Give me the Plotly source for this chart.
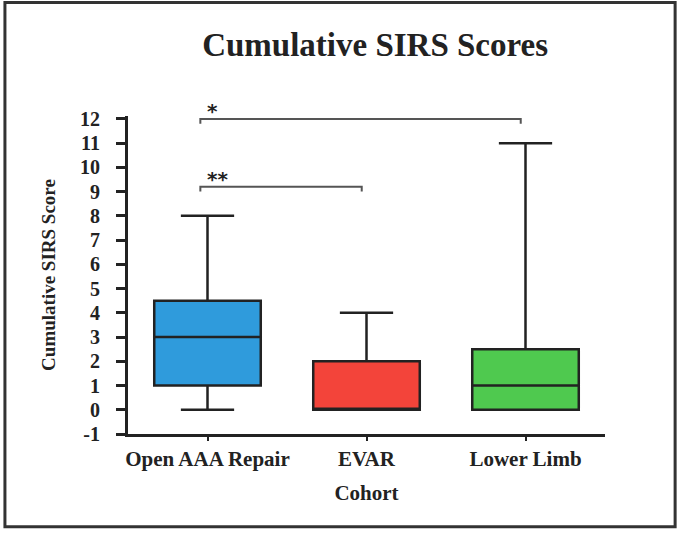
import plotly.graph_objects as go

# Data
cohorts = ["Open AAA Repair", "EVAR", "Lower Limb"]
lower_fence = [0, 0, 0]
q1 = [1, 0, 0]
median = [3, 0, 1]
q3 = [4.5, 2, 2.5]
upper_fence = [8, 4, 11]
colors = ["#2F9BDC", "#F3443A", "#4FC94F"]

# significance brackets: (from index, to index, y level, label)
brackets = [
    (0, 2, 12.0, "*"),
    (0, 1, 9.2, "**"),
]
y_ticks = list(range(-1, 13))
y_ticktext = [str(v) for v in y_ticks]

FONT = "Liberation Serif"
fig = go.Figure()
for i, c in enumerate(cohorts):
    fig.add_trace(go.Box(
        x=[c], q1=[q1[i]], median=[median[i]], q3=[q3[i]],
        lowerfence=[lower_fence[i]], upperfence=[upper_fence[i]],
        fillcolor=colors[i], line=dict(color="#222222", width=2.5),
        width=0.67, whiskerwidth=0.5, boxpoints=False, showlegend=False,
        hoverinfo="skip",
    ))

shapes = []
annotations = []
for a, b, y, lab in brackets:
    x0 = a - 0.045
    x1 = b - 0.03
    shapes.append(dict(type="path", xref="x", yref="y",
                       path=f"M {x0},{y-0.2} L {x0},{y} L {x1},{y} L {x1},{y-0.2}",
                       line=dict(color="#555555", width=2)))
    annotations.append(dict(x=x0 + 0.045 + 0.032 * len(lab), y=y, xref="x", yref="y",
                            text=lab, showarrow=False, yanchor="bottom", xanchor="center",
                            yshift=-6,
                            font=dict(family="DejaVu Sans", size=20, color="#222222",
                                      weight="bold")))

# outer frame
shapes.append(dict(type="rect", xref="paper", yref="paper",
                   x0=-0.258, x1=1.147, y0=-0.292, y1=1.357,
                   line=dict(color="#333333", width=3)))

fig.update_layout(
    width=679, height=533,
    margin=dict(l=128, r=74, t=116, b=99),
    paper_bgcolor="white", plot_bgcolor="white",
    title=dict(text="Cumulative SIRS Scores", x=0.518, xref="paper", y=1 - 44 / 533,
               yanchor="middle", xanchor="center",
               font=dict(family=FONT, size=33, color="#222222", weight="bold")),
    font=dict(family=FONT, color="#222222", weight="bold"),
    shapes=shapes, annotations=annotations,
    xaxis=dict(
        type="category", range=[-0.5, 2.5], showgrid=False, zeroline=False,
        showline=True, linecolor="#222222", linewidth=3,
        ticks="outside", ticklen=4, tickwidth=2, tickcolor="#222222",
        tickfont=dict(family=FONT, size=21, color="#222222", weight="bold"),
        title=dict(text="Cohort", standoff=16,
                   font=dict(family=FONT, size=21, color="#222222", weight="bold")),
    ),
    yaxis=dict(
        range=[-1, 12.12], tickvals=y_ticks, ticktext=y_ticktext,
        showgrid=False, zeroline=False,
        showline=True, linecolor="#222222", linewidth=3,
        ticks="outside", ticklen=9, tickwidth=3, tickcolor="#222222",
        ticklabelstandoff=12,
        tickfont=dict(family=FONT, size=20, color="#222222", weight="bold"),
        title=dict(text="Cumulative SIRS Score", standoff=20,
                   font=dict(family=FONT, size=19, color="#222222", weight="bold")),
    ),
)
fig.write_html("out.html")
